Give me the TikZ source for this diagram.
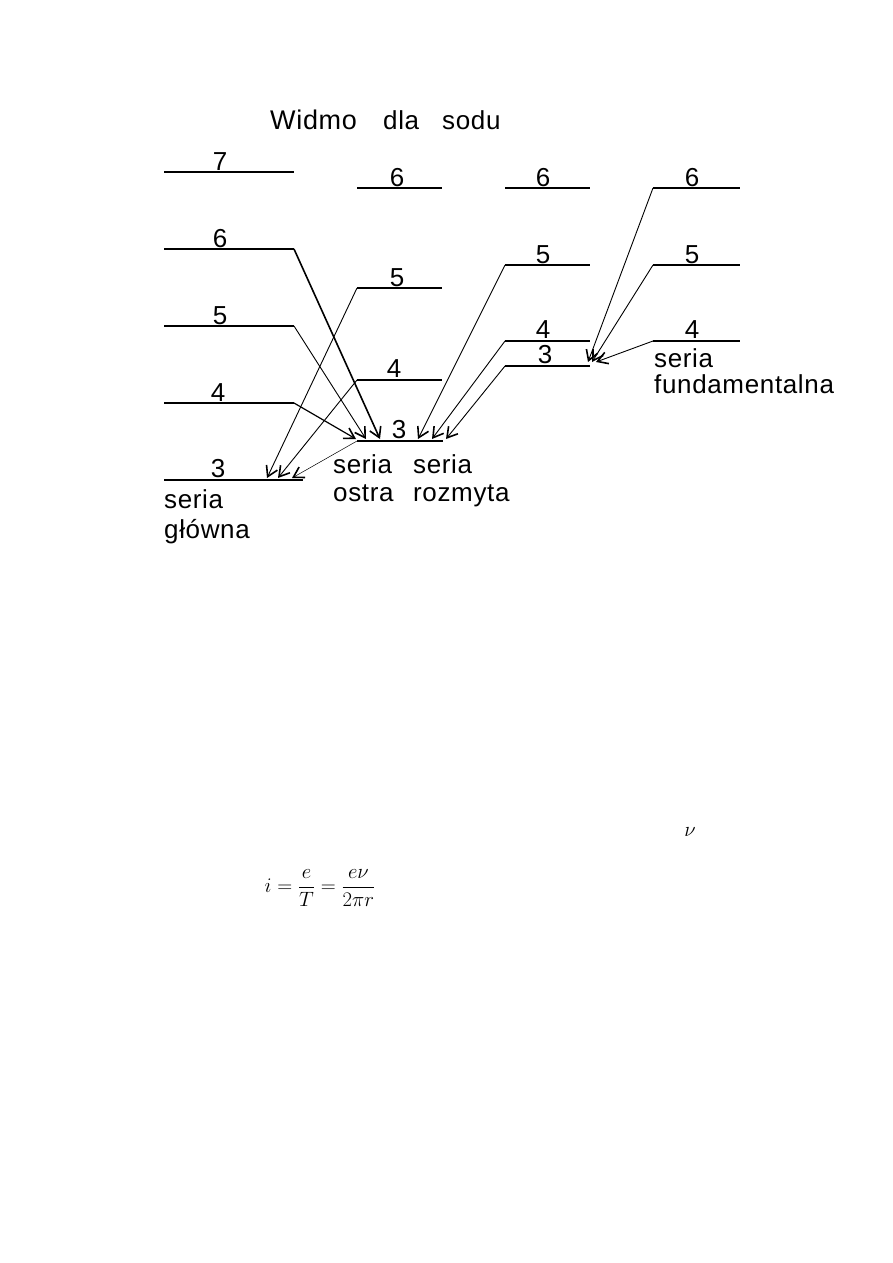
\documentclass[tikz,border=0pt]{standalone}
\usepackage{fontspec}
\setmainfont{Liberation Sans}[LetterSpace=2.5]
\usetikzlibrary{arrows.meta}
\begin{document}
\begin{tikzpicture}[x=1pt,y=-1pt,
  lvl/.style={line width=1.8pt},
  lvlb/.style={line width=2.8pt},
  tr/.style={line width=0.9pt,-{Straight Barb[length=10pt,width=12pt,line width=1.6pt]}},
  trb/.style={tr,line width=1.6pt},
  trt/.style={tr,line width=0.5pt},
  lab/.style={font=\fontsize{26}{30}\selectfont,anchor=base,inner sep=0pt},
  txt/.style={font=\fontsize{26}{30}\selectfont,anchor=base west,inner sep=0pt},
]
\useasboundingbox (0,0) rectangle (893,1263);
% title
\node[txt,font=\fontsize{27}{30}\selectfont] (t1) at (270,129) {Widmo};
\node[txt] (t2) at (383,129) {dla};
\node[txt] (t3) at (442,129) {sodu};
% column 1 (S)
\coordinate (s7l) at (164,172); \coordinate (s7r) at (294,172);
\coordinate (s6l) at (164,249); \coordinate (s6r) at (294,249);
\coordinate (s5l) at (164,326); \coordinate (s5r) at (294,326);
\coordinate (s4l) at (164,403); \coordinate (s4r) at (294,403);
\coordinate (s3l) at (164,480); \coordinate (s3r) at (303,480);
\draw[lvl] (s7l) -- (s7r);
\draw[lvlb] (s6l) -- (s6r);
\draw[lvlb] (s5l) -- (s5r);
\draw[lvl] (s4l) -- (s4r);
\draw[lvlb] (s3l) -- (s3r);
\node[lab] (ls7) at (220,170) {7};
\node[lab] (ls6) at (220,247) {6};
\node[lab] (ls5) at (220,324) {5};
\node[lab] (ls4) at (218,401) {4};
\node[lab] (ls3) at (218,477) {3};
% column 2 (P)
\coordinate (p6l) at (357,188); \coordinate (p6r) at (442,188);
\coordinate (p5l) at (357,288); \coordinate (p5r) at (442,288);
\coordinate (p4l) at (357,380); \coordinate (p4r) at (442,380);
\coordinate (p3l) at (357,441); \coordinate (p3r) at (443,441);
\draw[lvl] (p6l) -- (p6r);
\draw[lvlb] (p5l) -- (p5r);
\draw[lvlb] (p4l) -- (p4r);
\draw[lvlb] (p3l) -- (p3r);
\node[lab] (lp6) at (397,186) {6};
\node[lab] (lp5) at (397,286) {5};
\node[lab] (lp4) at (394,377) {4};
\node[lab] (lp3) at (399,438) {3};
% column 3 (D)
\coordinate (d6l) at (505,188); \coordinate (d6r) at (590,188);
\coordinate (d5l) at (505,265); \coordinate (d5r) at (590,265);
\coordinate (d4l) at (505,341); \coordinate (d4r) at (590,341);
\coordinate (d3l) at (505,366); \coordinate (d3r) at (590,366);
\draw[lvl] (d6l) -- (d6r);
\draw[lvlb] (d5l) -- (d5r);
\draw[lvl] (d4l) -- (d4r);
\draw[lvl] (d3l) -- (d3r);
\node[lab] (ld6) at (543,186) {6};
\node[lab] (ld5) at (543,263) {5};
\node[lab] (ld4) at (543,338) {4};
\node[lab] (ld3) at (545,363) {3};
% column 4 (F)
\coordinate (f6l) at (653,188); \coordinate (f6r) at (740,188);
\coordinate (f5l) at (653,265); \coordinate (f5r) at (740,265);
\coordinate (f4l) at (653,341); \coordinate (f4r) at (740,341);
\draw[lvl] (f6l) -- (f6r);
\draw[lvlb] (f5l) -- (f5r);
\draw[lvl] (f4l) -- (f4r);
\node[lab] (lf6) at (692,186) {6};
\node[lab] (lf5) at (692,263) {5};
\node[lab] (lf4) at (692,338) {4};
% arrow targets
\coordinate (a1) at (267,478); \coordinate (a2) at (278,478); \coordinate (a3) at (292,478);
\coordinate (b1) at (380,439); \coordinate (b2) at (366,439); \coordinate (b3) at (356,439);
\coordinate (c1) at (418,439); \coordinate (c2) at (432,439); \coordinate (c3) at (446,439);
\coordinate (e1) at (588,362); \coordinate (e2) at (592,362); \coordinate (e3) at (596,362);
% principal series
\draw[tr] (p5l) -- (a1);
\draw[tr] (p4l) -- (a2);
\draw[trt] (p3l) -- (a3);
% sharp series
\draw[trb] (s6r) -- (b1);
\draw[tr] (s5r) -- (b2);
\draw[tr,line width=1.2pt] (s4r) -- (b3);
% diffuse series
\draw[tr] (d5l) -- (c1);
\draw[tr] (d4l) -- (c2);
\draw[tr] (d3l) -- (c3);
% fundamental series
\draw[tr] (f6l) -- (e1);
\draw[tr] (f5l) -- (e2);
\draw[tr] (f4l) -- (e3);
% series names
\node[txt] (g1) at (164,508) {seria};
\node[txt] (g2) at (164,538) {główna};
\node[txt] (o1) at (333,473) {seria};
\node[txt] (o2) at (333,501) {ostra};
\node[txt] (r1) at (413,473) {seria};
\node[txt] (r2) at (413,501) {rozmyta};
\node[txt] (u1) at (654,367) {seria};
\node[txt] (u2) at (654,393) {fundamentalna};
% formula
\node[inner sep=0pt,font=\fontsize{20}{24}\selectfont] (fml) at (320,888)
  {$\displaystyle i=\frac{e}{T}=\frac{e\nu}{2\pi r}$};
\node[inner sep=0pt,font=\fontsize{20}{24}\selectfont] (nu) at (690,832) {$\nu$};
\end{tikzpicture}
\end{document}
